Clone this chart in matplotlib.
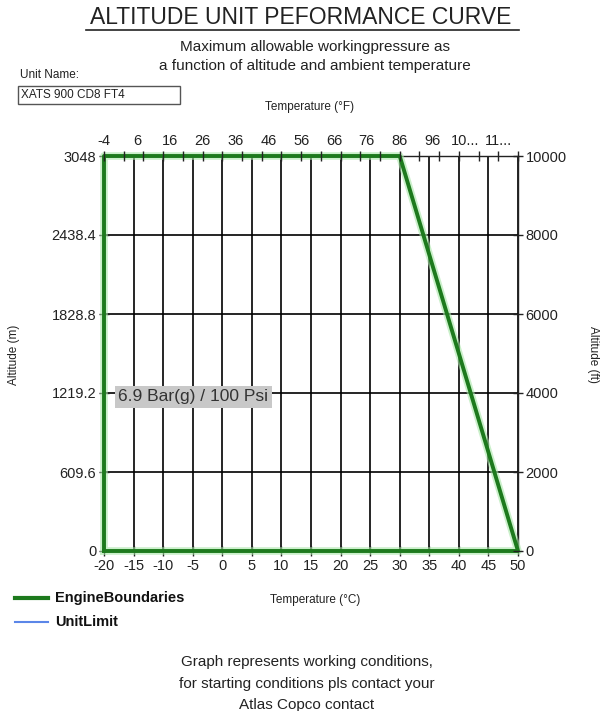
import numpy as np
import matplotlib.pyplot as plt
from matplotlib.patches import Rectangle
from matplotlib.lines import Line2D

plt.rcParams['font.family'] = ['Liberation Sans', 'DejaVu Sans']
plt.rcParams['axes.unicode_minus'] = False

# Data
engine_temp_c = [-20, -20, 30, 50, -20]
engine_alt_m = [0, 3048, 3048, 0, 0]
unit_limit_temp_c = []
unit_limit_alt_m = []

x_ticks_c = [-20, -15, -10, -5, 0, 5, 10, 15, 20, 25, 30, 35, 40, 45, 50]
y_ticks_m = [0, 609.6, 1219.2, 1828.8, 2438.4, 3048]
y_labels_m = ["0", "609.6", "1219.2", "1828.8", "2438.4", "3048"]
y_ticks_ft = [0, 2000, 4000, 6000, 8000, 10000]
top_ticks_f = [-4, 6, 16, 26, 36, 46, 56, 66, 76, 86, 96, 106, 116]
top_labels_f = ["-4", "6", "16", "26", "36", "46", "56", "66", "76", "86", "96", "10...", "11..."]

fig = plt.figure(figsize=(6.05, 7.11), dpi=100)
ax = fig.add_axes([104/605, 1-551/711, 414/605, 395/711])

green = "#1d7a1d"
ax.plot(engine_temp_c, engine_alt_m, color="#a8e6a8", lw=5.5, alpha=0.6, zorder=3,
        clip_on=False)
ax.plot(engine_temp_c, engine_alt_m, color=green, lw=2.8, zorder=4, clip_on=False)
ax.plot(unit_limit_temp_c, unit_limit_alt_m, color="#5b86e8", lw=1.5, zorder=5)

ax.set_xlim(-20, 50)
ax.set_ylim(0, 3048)
ax.set_xticks(x_ticks_c)
ax.set_yticks(y_ticks_m)
ax.set_yticklabels(y_labels_m)
ax.grid(True, color="black", lw=1.2)
ax.tick_params(direction="inout", length=7, width=1, labelsize=10.5, colors="#222222", pad=2)
for s in ax.spines.values():
    s.set_color("#222222")
    s.set_linewidth(1)

# right axis in feet
axr = ax.twinx()
axr.set_ylim(0, 10000)
axr.set_yticks(y_ticks_ft)
axr.tick_params(direction="inout", length=7, width=1, labelsize=10.5, colors="#222222", pad=2)
for s in axr.spines.values():
    s.set_visible(False)

# top axis in Fahrenheit
axt = ax.twiny()
axt.set_xlim(-4, 122)
axt.xaxis.remove_overlapping_locs = False
axt.set_xticks(top_ticks_f)
axt.set_xticklabels(top_labels_f)
axt.set_xticks(np.arange(-4, 123, 6), minor=True)
axt.tick_params(which="major", length=0, labelsize=10.5, colors="#222222", pad=6)
axt.tick_params(which="minor", direction="inout", length=7, width=1, color="#222222")
for s in axt.spines.values():
    s.set_visible(False)

# annotation
ax.text(0.035, 0.39, "6.9 Bar(g) / 100 Psi", transform=ax.transAxes, fontsize=12.5,
        color="#333333", va="center", ha="left", zorder=6,
        bbox=dict(boxstyle="square,pad=0.2", fc="#c8c8c8", ec="none"))

# titles and labels
fig.text(0.497, 1-18/711, "ALTITUDE UNIT PEFORMANCE CURVE", fontsize=16.5, ha="center",
         va="center", color="#222222")
fig.add_artist(Line2D([86/605, 519/605], [1-30/711, 1-30/711], color="#222222", lw=1.2))
fig.text(315/605, 1-47/711, "Maximum allowable workingpressure as", fontsize=11,
         ha="center", va="center", color="#222222")
fig.text(315/605, 1-66/711, "a function of altitude and ambient temperature", fontsize=11,
         ha="center", va="center", color="#222222")
fig.text(20/605, 1-75/711, "Unit Name:", fontsize=8.5, ha="left", va="center", color="#222222")
fig.add_artist(Rectangle((18/605, 1-104/711), 162/605, 18/711, transform=fig.transFigure,
                         fc="white", ec="#555555", lw=1))
fig.text(21/605, 1-95/711, "XATS 900 CD8 FT4", fontsize=8.5, ha="left", va="center",
         color="#222222")
fig.text(310/605, 1-107/711, "Temperature (°F)", fontsize=8.5, ha="center", va="center",
         color="#222222")
fig.text(315/605, 1-600/711, "Temperature (°C)", fontsize=8.5, ha="center", va="center",
         color="#222222")
fig.text(14/605, 1-355/711, "Altitude (m)", fontsize=8.5, rotation=90, ha="center",
         va="center", color="#222222")
fig.text(593/605, 1-355/711, "Altitude (ft)", fontsize=8.5, rotation=-90, ha="center",
         va="center", color="#222222")

# legend
fig.add_artist(Line2D([15/605, 48/605], [1-598/711, 1-598/711], color=green, lw=3))
fig.text(55/605, 1-598/711, "EngineBoundaries", fontsize=10.5, fontweight="bold",
         ha="left", va="center", color="#111111")
fig.add_artist(Line2D([15/605, 48/605], [1-622/711, 1-622/711], color="#5b86e8", lw=1.5))
fig.text(55/605, 1-622/711, "UnitLimit", fontsize=10.5, fontweight="bold",
         ha="left", va="center", color="#111111")

for yy, line in zip([662, 684, 705], ["Graph represents working conditions,",
                                      "for starting conditions pls contact your",
                                      "Atlas Copco contact"]):
    fig.text(307/605, 1-yy/711, line, fontsize=11, ha="center", va="center", color="#222222")

fig.savefig("out.png", dpi=100)
